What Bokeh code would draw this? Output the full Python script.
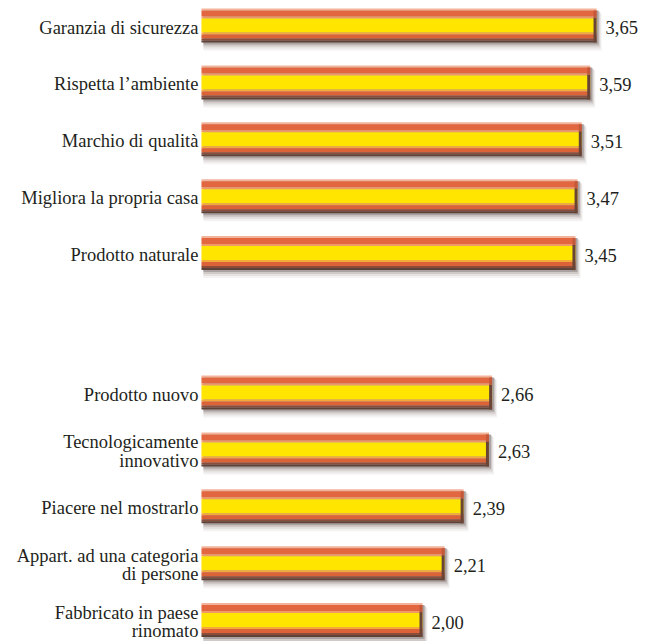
from bokeh.plotting import figure
from bokeh.models import Range1d, ColumnDataSource
from bokeh.embed import file_html
from bokeh.resources import INLINE
from bokeh.core.properties import value as pval

# ---- data ----
labels = [
    "Garanzia di sicurezza",
    "Rispetta l\u2019ambiente",
    "Marchio di qualità",
    "Migliora la propria casa",
    "Prodotto naturale",
    "Prodotto nuovo",
    "Tecnologicamente\ninnovativo",
    "Piacere nel mostrarlo",
    "Appart. ad una categoria\ndi persone",
    "Fabbricato in paese\nrinomato",
]
values = [3.65, 3.59, 3.51, 3.47, 3.45, 2.66, 2.63, 2.39, 2.21, 2.00]
value_text = [f"{v:.2f}".replace(".", ",") for v in values]

# ---- layout ----
W, H = 645, 641
X_LO, X_HI = -2.0, 4.114
Y_TOP, Y_BOT = -0.4394, 10.826
BASE = -0.095          # bars start slightly left of zero (bevel)
GROUP_SIZE = 5
GAP = 1.45

px_x = W / (X_HI - X_LO)
px_y = H / (Y_BOT - Y_TOP)

ys = [i + (GAP if i >= GROUP_SIZE else 0) for i in range(len(values))]

p = figure(width=W, height=H, x_range=Range1d(X_LO, X_HI), y_range=Range1d(Y_BOT, Y_TOP),
           output_backend="svg", toolbar_location=None, min_border=0,
           x_axis_type=None, y_axis_type=None)
p.grid.visible = False
p.outline_line_color = None
p.background_fill_color = "white"
p.border_fill_color = "white"

def band(top, bottom):
    return [y + (top + bottom) / 2 / px_y for y in ys], (bottom - top) / px_y

# soft drop shadow (below and right)
shadow_layers = [
    (-12, 25, 5, "#f4f2f2"),
    (-13, 23, 4, "#e6e2e2"),
    (-14, 21, 3, "#cfc9c8"),
    (-15, 19, 2, "#aaa2a0"),
]
for top, bot, extra, col in shadow_layers:
    yc, h = band(top, bot)
    p.hbar(y=yc, left=BASE + 2 / px_x, right=[v + extra / px_x for v in values], height=h,
           fill_color=col, line_color=None)

# bar bands, top to bottom
bar_layers = [
    (-17, -15, "#f2b39a"),
    (-15, -9, "#e2663f"),
    (-9, -7, "#ef9868"),
    (-7, 7, "#ffe500"),
    (7, 9, "#f4aa3a"),
    (9, 13, "#dc6238"),
    (13, 15, "#8c4c3a"),
    (15, 17, "#5e4238"),
]
for top, bot, col in bar_layers:
    yc, h = band(top, bot)
    p.hbar(y=yc, left=BASE, right=values, height=h, fill_color=col, line_color=None)

# dark right end cap
yc, h = band(-8, 17)
p.rect(x=[v - 1.5 / px_x for v in values], y=yc, width=3, width_units="screen",
       height=h, fill_color="#6a4536", line_color=None)
yc, h = band(-15, -8)
p.rect(x=[v - 1.5 / px_x for v in values], y=yc, width=3, width_units="screen",
       height=h, fill_color="#c4583a", line_color=None)

font = pval("Liberation Serif")
src = ColumnDataSource(dict(y=ys, lab=labels, v=values, vt=value_text,
                            base=[BASE] * len(values)))
p.text(x="base", y="y", text="lab", source=src, x_offset=-3, y_offset=2,
       text_align="right", text_baseline="middle", text_font=font,
       text_font_size="18.5px", text_color="#231f20", text_line_height=0.92)
p.text(x="v", y="y", text="vt", source=src, x_offset=9, y_offset=2, text_align="left",
       text_baseline="middle", text_font=font, text_font_size="18.5px",
       text_color="#231f20")

open("out.html", "w").write(file_html(p, INLINE))
